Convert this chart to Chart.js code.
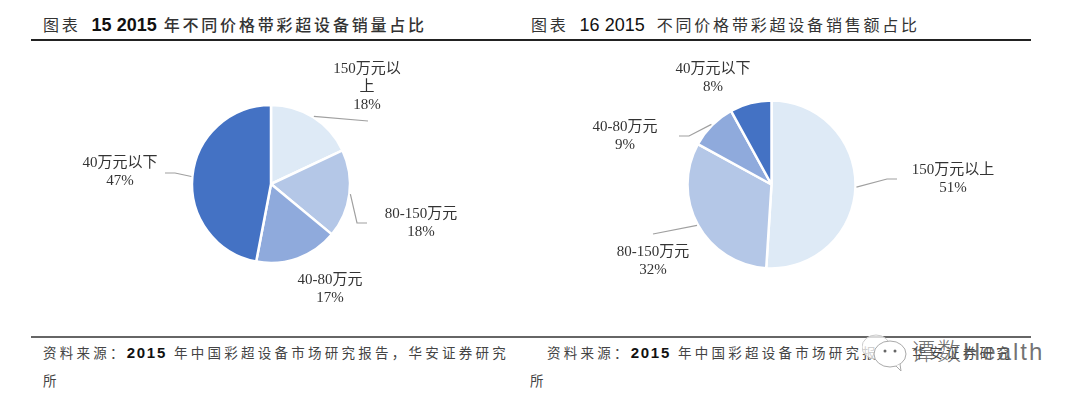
<!DOCTYPE html>
<html>
<head>
<meta charset="utf-8">
<script src="https://cdn.jsdelivr.net/npm/chart.js@4/dist/chart.umd.min.js"></script>
<style>
  html, body { margin: 0; padding: 0; background: #fff; overflow: hidden; }
  body { width: 1080px; height: 401px; position: relative; font-family: "Liberation Sans", "Noto Sans CJK SC", sans-serif; color: #222; }
  canvas { position: absolute; }
  .rule { position: absolute; left: 31px; width: 1000px; }
  .top-rule { top: 39px; height: 2px; background: #222; }
  .bottom-rule { top: 336px; height: 2px; background: #666; }
  .title, .source { position: absolute; white-space: nowrap; line-height: 1; }
  .title { top: 16px; font-size: 16px; letter-spacing: 2.8px; color: #333; }
  .title .num { font-size: 18px; letter-spacing: 0; color: #111; }
  .source { font-size: 13.5px; letter-spacing: 3.25px; color: #444; }
  .source .num { font-size: 15px; font-weight: bold; letter-spacing: 1.7px; color: #111; }
  .watermark { position: absolute; left: 911px; top: 335px; font-size: 24px; line-height: 34px; font-weight: 300; letter-spacing: 2px; color: rgba(90,90,90,.85); white-space: nowrap; }
  svg { position: absolute; left: 862px; top: 333px; }
</style>
</head>
<body>
<div class="rule top-rule"></div>
<div class="rule bottom-rule"></div>

<div class="title" style="left:43px">图表<span class="num" style="margin-left:11px"><b>15 2015</b></span><b style="font-weight:500;margin-left:7px">年不同价格带彩超设备销量占比</b></div>
<div class="title" style="left:531px">图表<span class="num" style="margin-left:11px">16 2015</span><span style="margin-left:12px">不同价格带彩超设备销售额占比</span></div>

<canvas id="chartVolume" width="480" height="260" style="left:31px;top:54px"></canvas>
<canvas id="chartRevenue" width="501" height="261" style="left:521px;top:54px"></canvas>

<div class="source" style="left:43px;top:345px">资料来源&#xFF1A;<span class="num">2015</span> 年中国彩超设备市场研究报告&#xFF0C;华安证券研究</div>
<div class="source" style="left:43px;top:375px">所</div>
<div class="source" style="left:547px;top:345px">资料来源&#xFF1A;<span class="num">2015</span> 年中国彩超设备市场研究报告&#xFF0C;华安证券研究</div>
<div class="source" style="left:530px;top:375px">所</div>

<svg width="50" height="44" viewBox="0 0 50 44">
  <ellipse cx="14" cy="14" rx="14" ry="12" fill="rgba(255,255,255,.75)" stroke="#ccc" stroke-width="1"/>
  <ellipse cx="28" cy="21" rx="16" ry="13" fill="#fff" stroke="#aaa" stroke-width="1"/>
  <path d="M34 33 L39 38 L38 31" fill="#fff" stroke="#aaa" stroke-width="1"/>
  <circle cx="23" cy="18" r="1.5" fill="#666"/>
  <circle cx="33" cy="18" r="1.5" fill="#666"/>
</svg>
<div class="watermark">谭数Health</div>

<script>
// chart 15 - sales volume share
const volumeLabels = ['150万元以\n上', '80-150万元', '40-80万元', '40万元以下'];
const volumeValues = [18, 18, 17, 47];
// chart 16 - revenue share
const revenueLabels = ['150万元以上', '80-150万元', '40-80万元', '40万元以下'];
const revenueValues = [51, 32, 9, 8];

const sliceColors = ['#DEEAF6', '#B4C7E7', '#8FAADC', '#4472C4'];

// label centre (first line) and leader elbow points, page pixels
const volumeLayout = [
    { x: 367, y: 69, line: [[368, 121]] },
    { x: 421, y: 214, line: [[357, 223], [367, 223]] },
    { x: 330, y: 280, line: null },
    { x: 120, y: 163, line: [[175, 173], [165, 173]] }
];
const revenueLayout = [
    { x: 953, y: 170, line: [[887, 179], [897, 179]] },
    { x: 653, y: 252, line: [[653, 234]] },
    { x: 625, y: 127, line: [[689, 136], [679, 136]] },
    { x: 713, y: 69, line: null }
];

const pieLabels = {
    id: 'pieLabels',
    afterDatasetsDraw(chart, args, opts) {
        const ctx = chart.ctx;
        const arcs = chart.getDatasetMeta(0).data;
        ctx.save();
        arcs.forEach((arc, i) => {
            const item = opts.layout[i];
            // leader line
            if (item.line) {
                const mid = (arc.startAngle + arc.endAngle) / 2;
                ctx.beginPath();
                ctx.moveTo(arc.x + Math.cos(mid) * (arc.outerRadius + 1), arc.y + Math.sin(mid) * (arc.outerRadius + 1));
                item.line.forEach(p => ctx.lineTo(p[0] - opts.left, p[1] - opts.top));
                ctx.strokeStyle = '#A0A0A0';
                ctx.lineWidth = 1.2;
                ctx.stroke();
            }
            // label text
            const lines = chart.data.labels[i].split('\n').concat(chart.data.datasets[0].data[i] + '%');
            ctx.font = '15px "Liberation Serif", "Noto Sans CJK SC", serif';
            ctx.fillStyle = '#333';
            ctx.textAlign = 'center';
            ctx.textBaseline = 'middle';
            lines.forEach((text, n) => {
                ctx.fillText(text, item.x - opts.left, item.y - opts.top + n * 18);
            });
        });
        ctx.restore();
    }
};

function makePie(id, labels, values, layout, left, top, radius) {
    return new Chart(document.getElementById(id), {
        type: 'pie',
        data: {
            labels: labels,
            datasets: [{
                data: values,
                backgroundColor: sliceColors,
                borderColor: '#fff',
                borderWidth: 2.5,
                radius: radius
            }]
        },
        options: {
            responsive: false,
            devicePixelRatio: 1,
            animation: false,
            layout: { padding: 0 },
            plugins: {
                legend: { display: false },
                tooltip: { enabled: false },
                pieLabels: { layout: layout, left: left, top: top }
            }
        },
        plugins: [pieLabels]
    });
}

makePie('chartVolume', volumeLabels, volumeValues, volumeLayout, 31, 54, 79);
makePie('chartRevenue', revenueLabels, revenueValues, revenueLayout, 521, 54, 84);
</script>
</body>
</html>
